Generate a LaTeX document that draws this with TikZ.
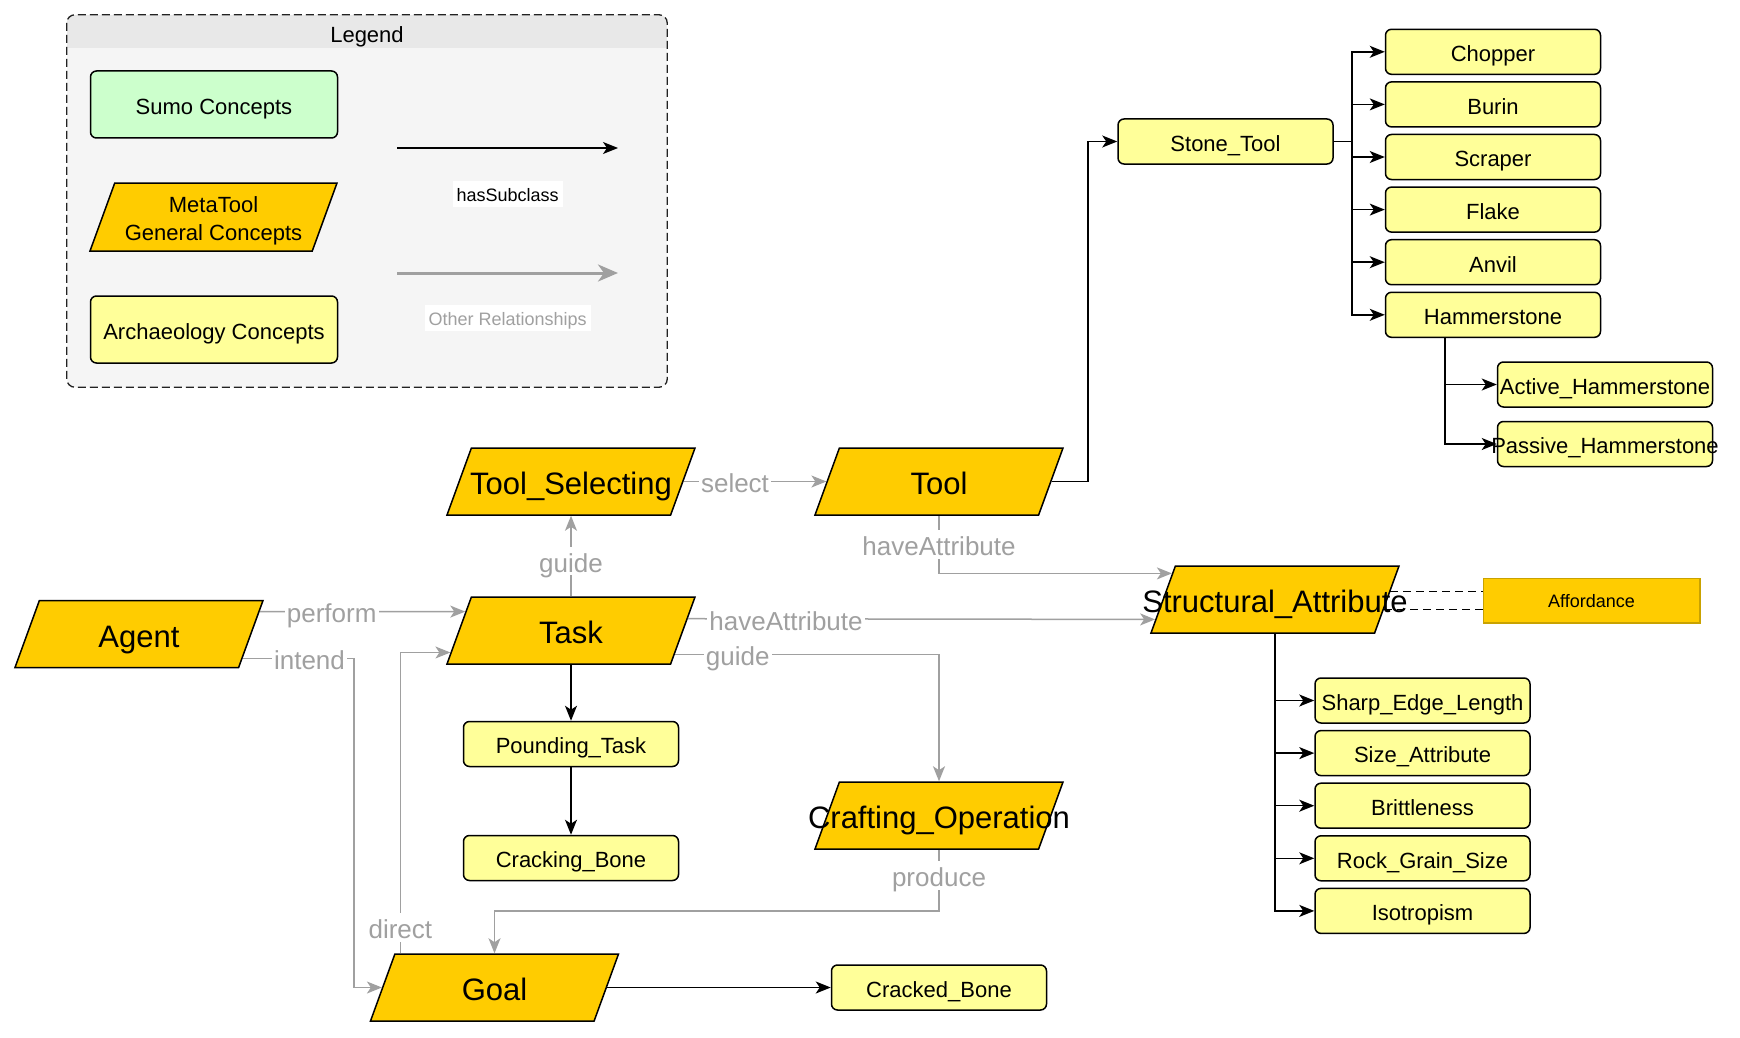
\documentclass[tikz,border=0pt]{standalone}
\usepackage{fontspec}
\setmainfont{Liberation Sans}
\usetikzlibrary{shapes.geometric,arrows.meta,calc}

\definecolor{metaorange}{HTML}{FFCC00}
\definecolor{archyellow}{HTML}{FFFF99}
\definecolor{sumogreen}{HTML}{CCFFCC}
\definecolor{relgray}{HTML}{A0A0A0}
\definecolor{legendbg}{HTML}{F5F5F5}
\definecolor{legendhead}{HTML}{E8E8E8}
\definecolor{legendline}{HTML}{222222}
\definecolor{affshade}{HTML}{C9A200}

% zero-width box so long names may run past their shape
\newcommand{\boxtxt}[1]{\makebox[0pt][c]{#1}}

\tikzset{
  metashape/.style={trapezium, trapezium left angle=70, trapezium right angle=110,
    trapezium stretches body=true, draw=black, line width=1.5pt, fill=metaorange,
    minimum width=248pt, minimum height=67pt, inner xsep=0pt},
  metanode/.style={metashape, inner ysep=20.2pt, text height=26.6pt, text depth=0pt,
    font=\fontsize{31}{37}\selectfont},
  archnode/.style={rectangle, rounded corners=6pt, draw=black, line width=1.5pt,
    fill=archyellow, minimum width=215pt, minimum height=45pt, inner sep=0pt,
    text height=19.6pt, text depth=0pt, font=\fontsize{22}{26}\selectfont},
  sumonode/.style={archnode, fill=sumogreen, minimum width=247pt, minimum height=67pt},
  affnode/.style={rectangle, draw=affshade, line width=1pt, fill=metaorange,
    minimum width=216pt, minimum height=44pt, inner sep=0pt,
    text height=14.9pt, text depth=0pt, font=\fontsize{18}{22}\selectfont},
  legendpanel/.style={rectangle, rounded corners=8pt, fill=legendbg, draw=none,
    minimum width=600pt, minimum height=372pt},
  hassub/.style={draw=black, line width=1.5pt,
    -{Stealth[length=15pt,width=12pt,inset=4pt]}},
  relline/.style={draw=relgray, line width=1.5pt,
    -{Stealth[length=15pt,width=12pt,inset=4pt]}},
  attrlink/.style={draw=black, line width=1.3pt, dash pattern=on 8pt off 5pt},
  rellabel/.style={fill=white, text=relgray, inner xsep=2pt, inner ysep=3pt,
    text height=22.6pt, text depth=0pt, font=\fontsize{26}{30}\selectfont},
  keylabel/.style={fill=white, inner xsep=4pt, inner ysep=6pt,
    text height=14.9pt, text depth=0pt, font=\fontsize{18}{22}\selectfont},
}

\begin{document}
\begin{tikzpicture}[x=1pt,y=-1pt]
\useasboundingbox (0,0) rectangle (1740,1038);
\fill[white] (0,0) rectangle (1740,1038);

% ---------------- legend ----------------
\node[legendpanel] (legend) at (367,201) {};
\begin{scope}
  \clip[rounded corners=8pt] (legend.north west) rectangle (legend.south east);
  \fill[legendhead] (legend.north west) rectangle ([yshift=-33pt]legend.north east);
\end{scope}
\draw[legendline, line width=1.3pt, dash pattern=on 8pt off 4pt, rounded corners=8pt]
  (legend.north west) rectangle (legend.south east);
\node[inner sep=0pt, text height=19.6pt, text depth=0pt, font=\fontsize{22}{26}\selectfont]
  (legendTitle) at (367,33) {Legend};

\node[sumonode] (sumoKey) at (214,104.5) {Sumo Concepts};
\node[metashape, minimum width=247pt, minimum height=68pt, inner ysep=6.4pt, align=center,
  font=\fontsize{22}{28}\selectfont] (metaKey) at (213.5,217)
  {\rule{0pt}{22.6pt}MetaTool\\General Concepts};
\node[archnode, minimum width=247pt, minimum height=67pt] (archKey) at (214,329.5)
  {Archaeology Concepts};

\coordinate (keySubFrom) at (397,148);
\coordinate (keySubTo) at (618,148);
\draw[hassub] (keySubFrom) -- (keySubTo);
\node[keylabel] (keySubLabel) at (507.6,194) {hasSubclass};

\coordinate (keyRelFrom) at (397,273);
\coordinate (keyRelTo) at (618,273);
\draw[draw=relgray, line width=3pt, -{Stealth[length=20pt,width=17pt,inset=6pt]}]
  (keyRelFrom) -- (keyRelTo);
\node[keylabel, text=relgray] (keyRelLabel) at (507.6,318) {Other Relationships};

% ---------------- MetaTool concepts ----------------
\node[metanode] (toolSelecting) at (571,481.5) {\boxtxt{Tool\_Selecting}};
\node[metanode] (tool) at (939,481.5) {\boxtxt{Tool}};
\node[metanode] (agent) at (139,634) {\boxtxt{Agent}};
\node[metanode] (task) at (571,630.5) {\boxtxt{Task}};
\node[metanode] (structAttr) at (1275,599.5) {\boxtxt{Structural\_Attribute}};
\node[metanode] (crafting) at (939,815.5) {\boxtxt{Crafting\_Operation}};
\node[metanode] (goal) at (494.5,987.5) {\boxtxt{Goal}};

% ---------------- archaeology concepts ----------------
\node[archnode] (stoneTool) at (1225.5,141.5) {\boxtxt{Stone\_Tool}};
\node[archnode] (chopper) at (1493,51.8) {\boxtxt{Chopper}};
\node[archnode] (burin) at (1493,104.4) {\boxtxt{Burin}};
\node[archnode] (scraper) at (1493,157) {\boxtxt{Scraper}};
\node[archnode] (flake) at (1493,209.6) {\boxtxt{Flake}};
\node[archnode] (anvil) at (1493,262.2) {\boxtxt{Anvil}};
\node[archnode] (hammerstone) at (1493,314.8) {\boxtxt{Hammerstone}};
\node[archnode] (activeHammer) at (1605,384.5) {\boxtxt{Active\_Hammerstone}};
\node[archnode] (passiveHammer) at (1605,444) {\boxtxt{Passive\_Hammerstone}};

\node[archnode] (poundingTask) at (571,744) {\boxtxt{Pounding\_Task}};
\node[archnode] (crackingBone) at (571,858) {\boxtxt{Cracking\_Bone}};
\node[archnode] (crackedBone) at (939,987.5) {\boxtxt{Cracked\_Bone}};

\node[archnode] (sharpEdge) at (1422.5,700.5) {\boxtxt{Sharp\_Edge\_Length}};
\node[archnode] (sizeAttr) at (1422.5,753.1) {\boxtxt{Size\_Attribute}};
\node[archnode] (brittleness) at (1422.5,805.7) {\boxtxt{Brittleness}};
\node[archnode] (grainSize) at (1422.5,858.3) {\boxtxt{Rock\_Grain\_Size}};
\node[archnode] (isotropism) at (1422.5,910.9) {\boxtxt{Isotropism}};

\node[affnode] (affordance) at (1591.5,600) {Affordance};
\draw[affshade, line width=2pt] (affordance.south west) -- (affordance.south east)
  -- (affordance.north east);

% ---------------- hasSubclass links ----------------
\coordinate (stoneBend) at (1088,0);
\coordinate (stoneTrunk) at (1352,0);
\coordinate (hammerTrunk) at (1445,0);

\draw[hassub] (tool.right side) -- (tool.right side -| stoneBend) |- (stoneTool.west);
\foreach \c in {chopper,burin,scraper,flake,anvil,hammerstone}
  \draw[hassub] (stoneTool.east) -- (stoneTool.east -| stoneTrunk) |- (\c.west);
\foreach \c in {activeHammer,passiveHammer}
  \draw[hassub] (hammerTrunk |- hammerstone.south) |- (\c.west);
\draw[hassub] (task.center |- task.bottom side) -- (poundingTask.north);
\draw[hassub] (poundingTask.south) -- (crackingBone.north);
\draw[hassub] (goal.right side) -- (crackedBone.west);
\foreach \c in {sharpEdge,sizeAttr,brittleness,grainSize,isotropism}
  \draw[hassub] (structAttr.center |- structAttr.bottom side) |- (\c.west);

% ---------------- other relationships ----------------
\draw[relline] ($(agent.top right corner)!0.172!(agent.bottom right corner)$)
  -- node[rellabel,pos=0.35]{perform}
  ($(task.top left corner)!0.224!(task.bottom left corner)$);

\coordinate (intendBend) at (354,0);
\coordinate (intendStart) at ($(agent.top right corner)!0.858!(agent.bottom right corner)$);
\draw[relline] (intendStart) -- node[rellabel,pos=0.6]{intend}
  (intendStart -| intendBend) |- (goal.left side);

\draw[relline] ([xshift=6pt]goal.top left corner)
  |- node[rellabel,pos=0.043]{direct}
  ($(task.top left corner)!0.821!(task.bottom left corner)$);

\draw[relline] (task.center |- task.top side) -- node[rellabel,pos=0.44]{guide}
  (toolSelecting.center |- toolSelecting.bottom side);

\draw[relline] (toolSelecting.right side) -- node[rellabel,pos=0.36]{select}
  (tool.left side);

\draw[relline] (tool.center |- tool.bottom side)
  |- node[rellabel,pos=0.25]{haveAttribute}
  ($(structAttr.top left corner)!0.119!(structAttr.bottom left corner)$);

\draw[relline] ($(task.top right corner)!0.328!(task.bottom right corner)$)
  -- node[rellabel,pos=0.21]{haveAttribute}
  ($(structAttr.top left corner)!0.791!(structAttr.bottom left corner)$);

\draw[relline] ($(task.top right corner)!0.851!(task.bottom right corner)$)
  -| node[rellabel,pos=0.119]{guide} (crafting.center |- crafting.top side);

\coordinate (produceLevel) at (0,911);
\draw[relline] (crafting.center |- crafting.bottom side)
  -- node[rellabel,pos=0.42]{produce} (crafting.center |- produceLevel)
  -| (goal.center |- goal.top side);

% ---------------- attribute to affordance ----------------
\coordinate (affA) at ($(structAttr.top right corner)!0.388!(structAttr.bottom right corner)$);
\coordinate (affB) at ($(structAttr.top right corner)!0.642!(structAttr.bottom right corner)$);
\draw[attrlink] (affA) -- (affA -| affordance.west);
\draw[attrlink] (affB) -- (affB -| affordance.west);

\end{tikzpicture}
\end{document}
